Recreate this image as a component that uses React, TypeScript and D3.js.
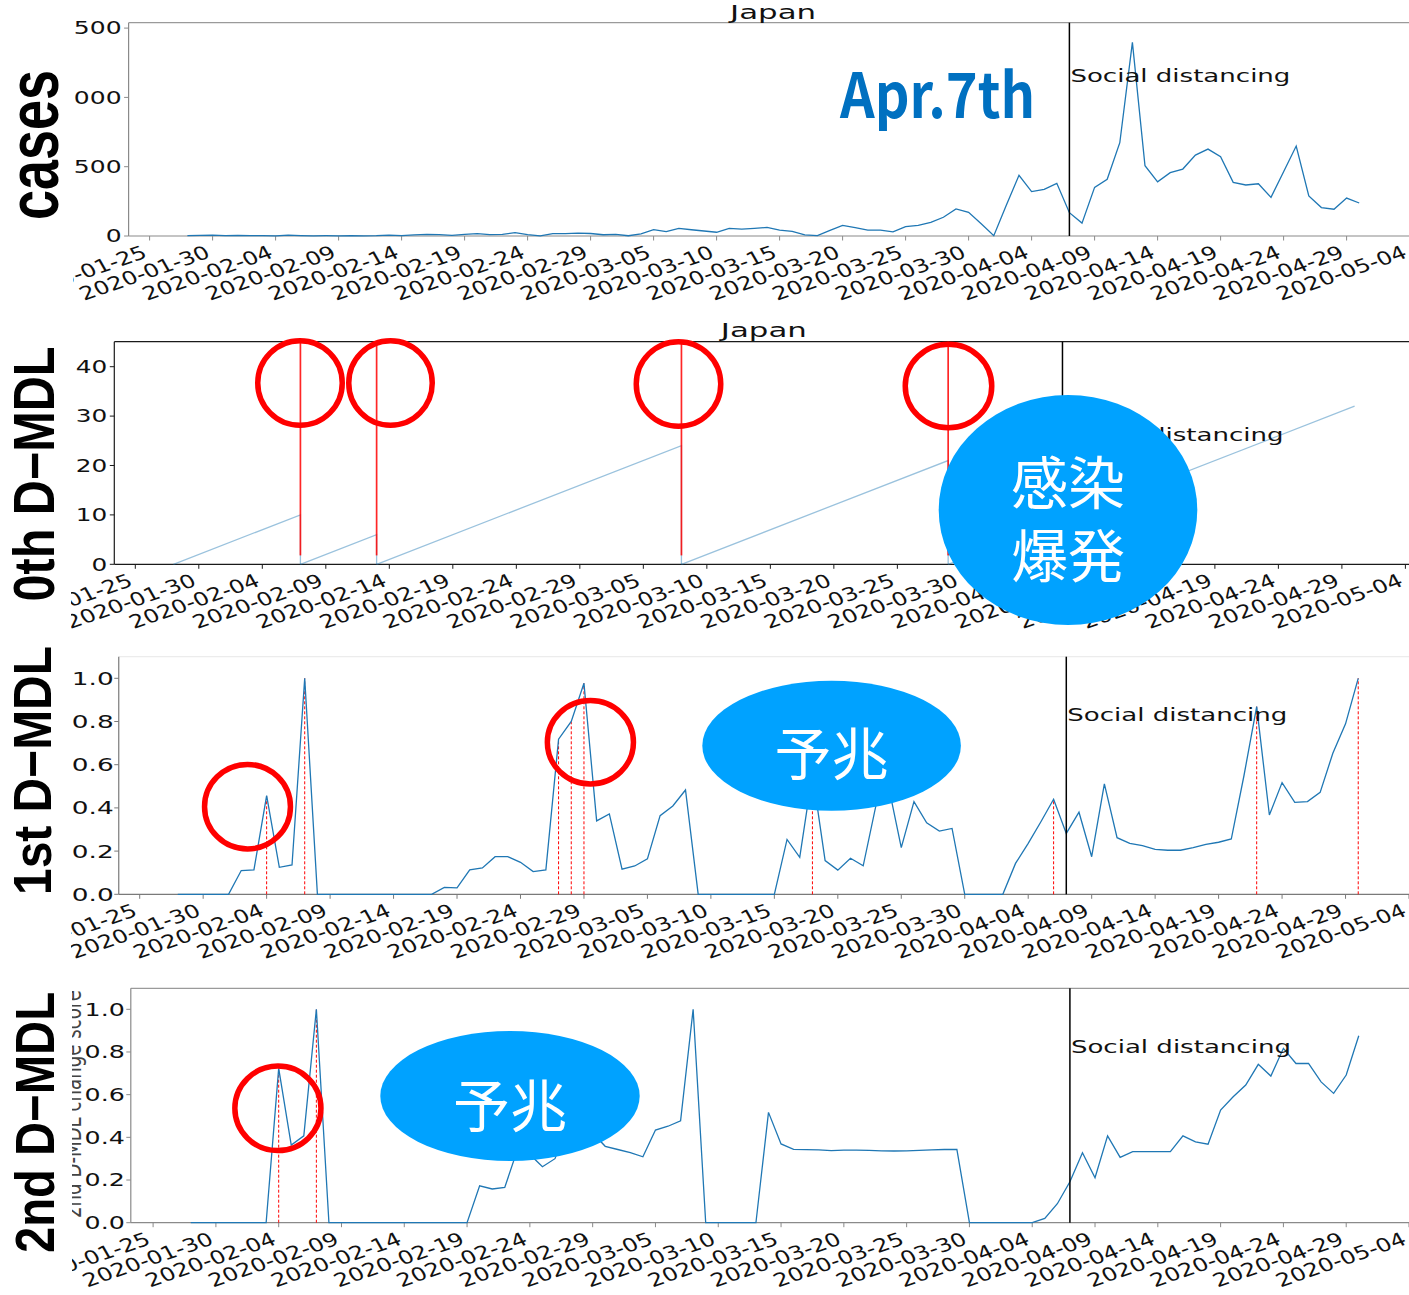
import React from "react";
import * as d3 from "d3";

// ---------- data ----------
const tickDates = [
  "2020-01-25", "2020-01-30", "2020-02-04", "2020-02-09", "2020-02-14", "2020-02-19",
  "2020-02-24", "2020-02-29", "2020-03-05", "2020-03-10", "2020-03-15", "2020-03-20",
  "2020-03-25", "2020-03-30", "2020-04-04", "2020-04-09", "2020-04-14", "2020-04-19",
  "2020-04-24", "2020-04-29", "2020-05-04",
];
const seriesStart = "2020-01-28";
const distancingDate = "2020-04-07";

// daily new cases, 2020-01-28 .. 2020-04-30
const casesValues = [
  2, 4, 6, 3, 5, 2, 3, 1, 6, 3,
  1, 2, 1, 3, 1, 2, 6, 3, 8, 12,
  10, 4, 11, 17, 10, 12, 24, 10, 1, 17,
  17, 21, 18, 9, 12, 2, 15, 46, 31, 55,
  45, 36, 27, 55, 50, 55, 62, 43, 34, 8,
  3, 40, 77, 60, 43, 43, 30, 67, 77, 99,
  135, 195, 171, 88, 2, 224, 438, 320, 337, 380,
  168, 93, 351, 409, 673, 1397, 507, 391, 457, 483,
  584, 627, 572, 387, 368, 377, 279, 464, 649, 289,
  205, 193, 274, 238,
];
const casesTicks = [0, 500, 1000, 1500];

// 0th D-MDL: run length since the last detected change
const mdl0Starts = ["2020-01-28", "2020-02-07", "2020-02-13", "2020-03-08", "2020-03-29"];
const mdl0Ends = ["2020-02-07", "2020-02-13", "2020-03-08", "2020-03-29", "2020-04-30"];
const mdl0Peaks = [10, 6, 24, 21, 32];
const mdl0Alarms = ["2020-02-07", "2020-02-13", "2020-03-08", "2020-03-29"];
const mdl0Ticks = [0, 10, 20, 30, 40];

// 1st D-MDL change score
const mdl1Values = [
  0, 0, 0, 0, 0,
  0.11, 0.113, 0.457, 0.125, 0.136, 1.0, 0,
  0, 0, 0, 0, 0, 0, 0, 0, 0,
  0.032, 0.03, 0.113, 0.122, 0.174, 0.174, 0.148, 0.105, 0.113, 0.718,
  0.8, 0.977, 0.34, 0.372, 0.116, 0.131, 0.164, 0.364, 0.409, 0.483, 0,
  0, 0, 0, 0, 0, 0,
  0.254, 0.171, 0.56, 0.156, 0.112, 0.167, 0.132, 0.41, 0.5, 0.216,
  0.429, 0.331, 0.293, 0.305, 0,
  0, 0, 0,
  0.143, 0.236, 0.336, 0.44, 0.282, 0.38, 0.174, 0.511, 0.262, 0.236,
  0.225, 0.208, 0.204, 0.204, 0.216, 0.231, 0.241, 0.256, 0.55, 0.869,
  0.367, 0.517, 0.426, 0.429, 0.472, 0.653, 0.789, 1.0,
];
const mdl1Alarms = [
  "2020-02-04", "2020-02-07", "2020-02-27", "2020-02-28", "2020-02-29",
  "2020-03-18", "2020-04-06", "2020-04-22", "2020-04-30",
];

// 2nd D-MDL change score
const mdl2Values = [
  0, 0, 0, 0, 0, 0, 0,
  0.723, 0.364, 0.407, 1.0, 0,
  0, 0, 0, 0, 0, 0, 0, 0, 0, 0, 0,
  0.173, 0.158, 0.165, 0.34, 0.32, 0.262, 0.3, 0.45, 0.5, 0.42,
  0.358, 0.343, 0.328, 0.309, 0.434, 0.452, 0.477, 1.0, 0,
  0, 0, 0, 0,
  0.517, 0.369, 0.344, 0.342, 0.341, 0.338, 0.34, 0.34, 0.339, 0.337,
  0.336, 0.337, 0.339, 0.341, 0.343, 0.344, 0,
  0, 0, 0, 0, 0,
  0.02, 0.089, 0.192, 0.328, 0.211, 0.407, 0.306, 0.333, 0.333, 0.333,
  0.333, 0.407, 0.379, 0.368, 0.528, 0.59, 0.645, 0.742, 0.687, 0.817,
  0.746, 0.746, 0.66, 0.606, 0.692, 0.876,
];
const mdl2Alarms = ["2020-02-04", "2020-02-07"];
const scoreTicks = [0, 0.2, 0.4, 0.6, 0.8, 1.0];

// ---------- layout ----------
const W = 1409;
const H = 1295;
const SX = 1.44; // horizontal stretch of the plot text
const LINE = "#1f77b4";
const FONT = "DejaVu Sans, Verdana, sans-serif";
const BOLD = "Liberation Sans, Arial, Helvetica, sans-serif";
const JP = "Noto Sans CJK JP, Noto Sans CJK SC, sans-serif";

const parse = d3.utcParse("%Y-%m-%d");
const fmtDate = d3.utcFormat("%Y-%m-%d");
const d0 = parse(seriesStart)!;
const dailyDates = (n: number) => d3.range(n).map((i) => d3.utcDay.offset(d0, i));

type Layout = {
  xa: number; xb: number; left: number; top: number; bottom: number; yMax: number;
  clipX: number; clipY0: number; clipY1: number; fs: number; yGap: number;
  spine: string; topSpine: string; textY: number; title?: number;
};

const L1: Layout = { xa: 149.6, xb: 1409.6, left: 128.6, top: 22.7, bottom: 236, yMax: 1539,
  clipX: 73, clipY0: 0, clipY1: 315, fs: 17.4, yGap: 7, spine: "#8a8a8a", topSpine: "#9a9a9a", textY: 81.7, title: 18.5 };
const L2: Layout = { xa: 135.3, xb: 1405.4, left: 114.3, top: 341.7, bottom: 564.3, yMax: 45.06,
  clipX: 71, clipY0: 318, clipY1: 645, fs: 17.2, yGap: 7, spine: "#1a1a1a", topSpine: "#1a1a1a", textY: 440.7, title: 337.3 };
const L3: Layout = { xa: 139.7, xb: 1409, left: 118.75, top: 656.7, bottom: 894.3, yMax: 1.1,
  clipX: 71, clipY0: 648, clipY1: 978, fs: 18.3, yGap: 5, spine: "#7a7a7a", topSpine: "#ececec", textY: 721 };
const L4: Layout = { xa: 153.1, xb: 1409, left: 130.8, top: 988.3, bottom: 1222.7, yMax: 1.0984,
  clipX: 72, clipY0: 982, clipY1: 1295, fs: 17.6, yGap: 6, spine: "#8a8a8a", topSpine: "#9a9a9a", textY: 1052.7 };

// rotated date labels
const XL_SIZE = 18.5;
const XL_SCALE = 1.3;
const XL_ROT = 24;

function scales(l: Layout) {
  const x = d3.scaleUtc().domain([parse("2020-01-25")!, parse("2020-05-04")!]).range([l.xa, l.xb]);
  const y = d3.scaleLinear().domain([0, l.yMax]).range([l.bottom, l.top]);
  return { x, y };
}

function Frame({ l, id, yTicks, yFmt, children }: any) {
  const { x, y } = scales(l);
  const vx = x(parse(distancingDate)!);
  return (
    <g clipPath={`url(#${id})`}>
      <defs>
        <clipPath id={id}>
          <rect x={l.clipX} y={l.clipY0} width={W - l.clipX} height={l.clipY1 - l.clipY0} />
        </clipPath>
      </defs>
      {/* spines */}
      <line x1={l.left} x2={W} y1={l.top} y2={l.top} stroke={l.topSpine} strokeWidth={1.2} />
      <line x1={l.left} x2={l.left} y1={l.top} y2={l.bottom} stroke={l.spine} strokeWidth={1.2} />
      <line x1={l.left} x2={W} y1={l.bottom} y2={l.bottom} stroke={l.spine} strokeWidth={1.2} />
      {/* y ticks */}
      {yTicks.map((t: number) => (
        <g key={"y" + t}>
          <line x1={l.left - 4.5} x2={l.left} y1={y(t)} y2={y(t)} stroke={l.spine} strokeWidth={1} />
          <text transform={`translate(${l.left - l.yGap},${y(t)}) scale(${SX},1)`} textAnchor="end"
            dy="0.36em" fontSize={l.fs} fontFamily={FONT} fill="#111">{yFmt(t)}</text>
        </g>
      ))}
      {/* x ticks */}
      {tickDates.map((s) => {
        const px = x(parse(s)!);
        return (
          <g key={s}>
            <line x1={px} x2={px} y1={l.bottom} y2={l.bottom + 4.5} stroke={l.spine} strokeWidth={1} />
            <text transform={`translate(${px - 1},${l.bottom + 21}) scale(${XL_SCALE},1) rotate(-${XL_ROT})`}
              textAnchor="end" fontSize={XL_SIZE} fontFamily={FONT} fill="#111">{fmtDate(parse(s)!)}</text>
          </g>
        );
      })}
      {children(x, y)}
      {/* social distancing marker */}
      <line x1={vx} x2={vx} y1={l.top} y2={l.bottom} stroke="#000" strokeWidth={1.5} />
      <text x={vx + 1} y={l.textY} fontSize={18.3} fontFamily={FONT} textLength={220}
        lengthAdjust="spacingAndGlyphs" fill="#111">Social distancing</text>
      {l.title !== undefined && (
        <text x={(l.left + x(parse("2020-05-04")!) + 8) / 2} y={l.title} textAnchor="middle"
          fontSize={19.6} fontFamily={FONT} textLength={86} lengthAdjust="spacingAndGlyphs" fill="#111">Japan</text>
      )}
    </g>
  );
}

function BigLabel({ x, y, size, len, text }: any) {
  return (
    <text transform={`translate(${x},${y}) rotate(-90)`} textAnchor="middle" fontFamily={BOLD}
      fontWeight="bold" fontSize={size} textLength={len} lengthAdjust="spacingAndGlyphs" fill="#000">{text}</text>
  );
}

function RedRing({ cx, cy, rx, ry }: any) {
  return <ellipse cx={cx} cy={cy} rx={rx - 2.75} ry={ry - 2.75} fill="none" stroke="#ff0000" strokeWidth={5.5} />;
}

function BlueBadge({ cx, cy, rx, ry, lines, ty, size }: any) {
  return (
    <g>
      <ellipse cx={cx} cy={cy} rx={rx} ry={ry} fill="#00a2ff" />
      {lines.map((t: string, i: number) => (
        <text key={t} x={cx} y={ty[i]} textAnchor="middle" dominantBaseline="central" fontFamily={JP}
          fontSize={size} fill="#fff">{t}</text>
      ))}
    </g>
  );
}

export default function App() {
  const fmtInt = (v: number) => String(v);
  const fmt1 = d3.format(".1f");

  const casesDates = dailyDates(casesValues.length);
  const mdl1Dates = dailyDates(mdl1Values.length);
  const mdl2Dates = dailyDates(mdl2Values.length);

  return (
    <svg width={W} height={H} viewBox={`0 0 ${W} ${H}`}
      style={{ position: "absolute", left: 0, top: 0, background: "#fff" }}>
      <rect width={W} height={H} fill="#fff" />

      {/* daily cases */}
      <Frame l={L1} id="clip1" yTicks={casesTicks} yFmt={fmtInt}>
        {(x: any, y: any) => {
          const line = d3.line<number>().x((_, i) => x(casesDates[i])).y((v) => y(v));
          return <path d={line(casesValues) || ""} fill="none" stroke={LINE} strokeWidth={1.3} />;
        }}
      </Frame>

      {/* 0th D-MDL */}
      <Frame l={L2} id="clip2" yTicks={mdl0Ticks} yFmt={fmtInt}>
        {(x: any, y: any) => (
          <g>
            {mdl0Starts.map((s, i) => {
              const xs = x(parse(s)!);
              const xe = x(parse(mdl0Ends[i])!);
              const closes = mdl0Alarms.includes(mdl0Ends[i]);
              const d = `M${xs},${y(0)}L${xe},${y(mdl0Peaks[i])}` + (closes ? `L${xe},${y(0)}` : "");
              return <path key={s} d={d} fill="none" stroke={LINE} strokeOpacity={0.45} strokeWidth={1.3} />;
            })}
            {mdl0Alarms.map((s) => (
              <line key={s} x1={x(parse(s)!)} x2={x(parse(s)!)} y1={y(1.8)} y2={y(L2.yMax)}
                stroke="#ff0000" strokeOpacity={0.85} strokeWidth={1.7} />
            ))}
          </g>
        )}
      </Frame>

      {/* 1st D-MDL */}
      <Frame l={L3} id="clip3" yTicks={scoreTicks} yFmt={fmt1}>
        {(x: any, y: any) => {
          const line = d3.line<number>().x((_, i) => x(mdl1Dates[i])).y((v) => y(v));
          return (
            <g>
              {mdl1Alarms.map((s) => {
                const dt = parse(s)!;
                const idx = d3.utcDay.count(d0, dt);
                return <line key={s} x1={x(dt)} x2={x(dt)} y1={y(0)} y2={y(mdl1Values[idx])}
                  stroke="#ff0000" strokeWidth={1} strokeDasharray="3,2" />;
              })}
              <path d={line(mdl1Values) || ""} fill="none" stroke={LINE} strokeWidth={1.3} />
            </g>
          );
        }}
      </Frame>

      {/* 2nd D-MDL */}
      <Frame l={L4} id="clip4" yTicks={scoreTicks} yFmt={fmt1}>
        {(x: any, y: any) => {
          const line = d3.line<number>().x((_, i) => x(mdl2Dates[i])).y((v) => y(v));
          return (
            <g>
              <text transform={`translate(81,1104) scale(${SX},1) rotate(-90)`} textAnchor="middle"
                fontSize={17.6} fontFamily={FONT} textLength={228} lengthAdjust="spacingAndGlyphs"
                fill="#444">2nd D-MDL change score</text>
              {mdl2Alarms.map((s) => {
                const dt = parse(s)!;
                const idx = d3.utcDay.count(d0, dt);
                return <line key={s} x1={x(dt)} x2={x(dt)} y1={y(0)} y2={y(mdl2Values[idx])}
                  stroke="#ff0000" strokeWidth={1} strokeDasharray="3,2" />;
              })}
              <path d={line(mdl2Values) || ""} fill="none" stroke={LINE} strokeWidth={1.3} />
            </g>
          );
        }}
      </Frame>

      {/* row labels */}
      <BigLabel x={58} y={145} size={72} len={150} text="cases" />
      <BigLabel x={53.6} y={474} size={57} len={255} text="0th D−MDL" />
      <BigLabel x={51.3} y={770.5} size={54} len={249} text="1st D−MDL" />
      <BigLabel x={53.6} y={1122.5} size={56} len={261} text="2nd D−MDL" />

      {/* annotations */}
      <text x={840} y={118.3} fontFamily={JP} fontWeight="bold" fontSize={62} fill="#0070c0"
        textLength={195} lengthAdjust="spacingAndGlyphs">Apr.7th</text>

      <RedRing cx={300} cy={383} rx={45} ry={45} />
      <RedRing cx={390.5} cy={383} rx={44.5} ry={45} />
      <RedRing cx={678.5} cy={384} rx={45} ry={45} />
      <RedRing cx={948.5} cy={386} rx={46} ry={44.6} />
      <BlueBadge cx={1068} cy={510} rx={129.3} ry={115} lines={["感染", "爆発"]} ty={[479, 551.7]} size={57} />

      <RedRing cx={247.5} cy={806.7} rx={45.7} ry={45} />
      <RedRing cx={590.4} cy={742.2} rx={45.8} ry={44.5} />
      <BlueBadge cx={831.6} cy={745.7} rx={129.3} ry={65} lines={["予兆"]} ty={[750]} size={57} />

      <RedRing cx={277.9} cy={1108.3} rx={45.8} ry={45} />
      <BlueBadge cx={510} cy={1096} rx={129.7} ry={65} lines={["予兆"]} ty={[1101.7]} size={57} />
    </svg>
  );
}
